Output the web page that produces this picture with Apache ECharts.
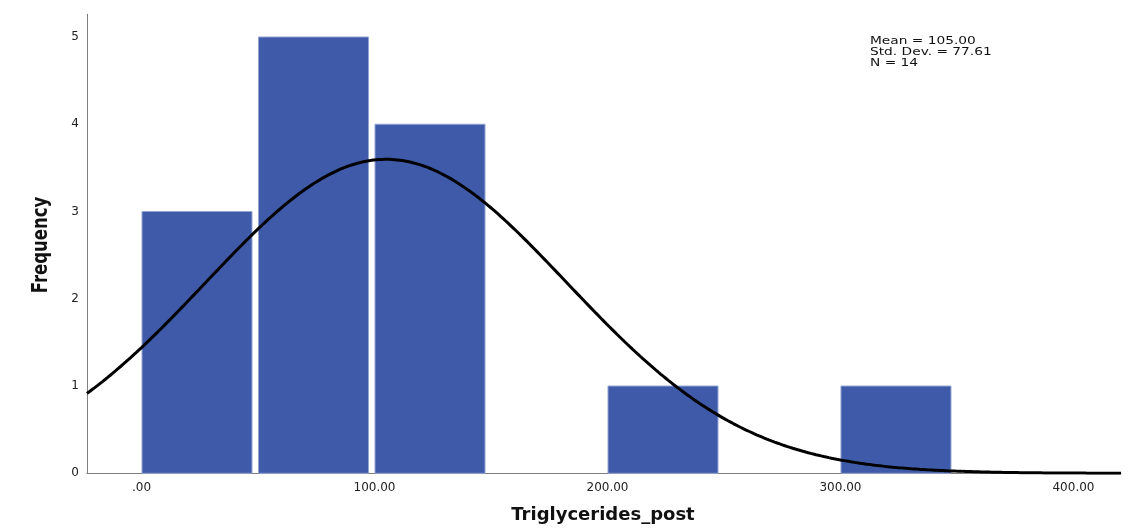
<!DOCTYPE html>
<html>
<head>
<meta charset="utf-8">
<script src="https://cdn.jsdelivr.net/npm/echarts@6/dist/echarts.min.js"></script>
<style>
  html, body { margin: 0; padding: 0; background: #ffffff; }
  #chart { width: 1132px; height: 532px; }
</style>
</head>
<body>
<div id="chart"></div>
<script>
// Histogram bins (lower edges) and their frequencies
const binStarts = [0, 50, 100, 150, 200, 250, 300];
const binWidth = 50;
const counts = [3, 5, 4, 0, 1, 0, 1];

// Summary statistics shown in the corner box
const statMean = 105.00;
const statSD = 77.61;
const statN = 14;

// Axis settings and tick labels
const xMin = -23.4;
const xMax = 420.4;
const xTicks = [0, 100, 200, 300, 400];
const xTickLabels = ['.00', '100.00', '200.00', '300.00', '400.00'];
const yTicks = [0, 1, 2, 3, 4, 5];
const yMax = 5.26;

// Fitted normal curve, scaled to bin frequency (N * bin width * density)
const curve = [];
const steps = 400;
for (let i = 0; i <= steps; i++) {
  const x = xMin + (xMax - xMin) * i / steps;
  const z = (x - statMean) / statSD;
  const y = statN * binWidth * Math.exp(-0.5 * z * z) / (statSD * Math.sqrt(2 * Math.PI));
  curve.push([x, y]);
}

const bars = binStarts
  .map((s, i) => [s, s + binWidth, counts[i]])
  .filter(d => d[2] > 0);

const chart = echarts.init(document.getElementById('chart'), null, { renderer: 'canvas' });

const tickFont = { fontFamily: 'DejaVu Sans', fontSize: 12, color: '#222222' };

chart.setOption({
  animation: false,
  backgroundColor: '#ffffff',
  grid: { left: 87, right: 11, top: 14.3, bottom: 58.7, containLabel: false },
  xAxis: {
    type: 'value',
    min: xMin,
    max: xMax,
    axisLine: { show: true, onZero: false, lineStyle: { color: '#7f7f7f', width: 1 } },
    axisTick: { show: false },
    splitLine: { show: false },
    axisLabel: Object.assign({
      margin: 9,
      customValues: xTicks,
      formatter: v => {
        const i = xTicks.indexOf(Math.round(v));
        return i >= 0 ? xTickLabels[i] : '';
      }
    }, tickFont)
  },
  yAxis: {
    type: 'value',
    min: 0,
    max: yMax,
    axisLine: { show: true, onZero: false, lineStyle: { color: '#7f7f7f', width: 1 } },
    axisTick: { show: false },
    splitLine: { show: false },
    axisLabel: Object.assign({
      margin: 8,
      customValues: yTicks,
      formatter: v => String(Math.round(v))
    }, tickFont)
  },
  series: [
    {
      type: 'custom',
      data: bars,
      z: 2,
      renderItem: (params, api) => {
        const p0 = api.coord([api.value(0), api.value(2)]);
        const p1 = api.coord([api.value(1), 0]);
        return {
          type: 'rect',
          shape: {
            x: p0[0] + 0.5,
            y: p0[1],
            width: (p1[0] - p0[0]) - 6.5,
            height: p1[1] - p0[1]
          },
          style: { fill: '#3f5aa8', stroke: '#93a3d2', lineWidth: 1 }
        };
      }
    },
    {
      type: 'line',
      data: curve,
      z: 5,
      showSymbol: false,
      symbol: 'none',
      smooth: false,
      lineStyle: { color: '#000000', width: 3 }
    }
  ],
  graphic: [
    {
      type: 'text',
      left: 870,
      top: 36,
      scaleX: 1.25,
      style: {
        text: 'Mean = ' + statMean.toFixed(2) + '\nStd. Dev. = ' + statSD.toFixed(2) + '\nN = ' + statN,
        font: '11px "DejaVu Sans"',
        lineHeight: 11,
        fill: '#111111'
      }
    },
    {
      type: 'text',
      x: 603,
      y: 515,
      style: {
        text: 'Triglycerides_post',
        font: 'bold 18px "DejaVu Sans"',
        fill: '#111111',
        align: 'center',
        verticalAlign: 'middle'
      }
    },
    {
      type: 'text',
      x: 42,
      y: 245,
      rotation: Math.PI / 2,
      scaleY: 1.25,
      style: {
        text: 'Frequency',
        font: 'bold 16.5px "DejaVu Sans"',
        fill: '#111111',
        align: 'center',
        verticalAlign: 'middle'
      }
    }
  ]
});
</script>
</body>
</html>
